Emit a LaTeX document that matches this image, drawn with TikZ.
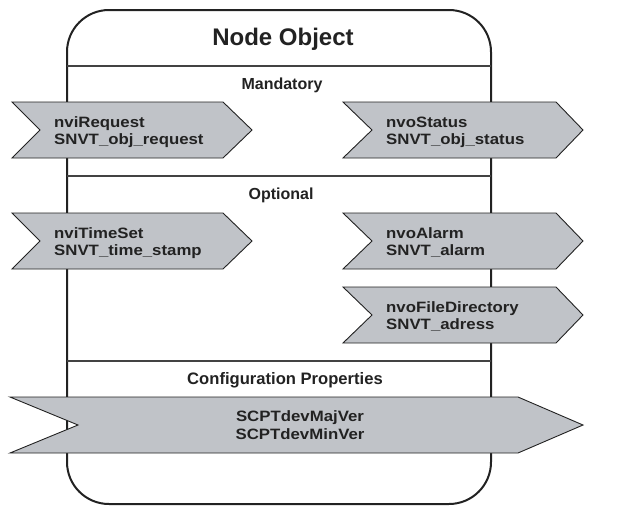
\documentclass[tikz,border=0pt]{standalone}
\usepackage{fontspec}
\setmainfont{Liberation Sans}
\newfontfamily\widefont[FakeStretch=1.12]{Liberation Sans}
\definecolor{chevfill}{HTML}{C0C3C8}
\definecolor{ink}{HTML}{222222}
\begin{document}
\begin{tikzpicture}[x=1pt,y=-1pt,
  boxline/.style={draw=ink,line width=2pt},
  secline/.style={draw=ink!85,line width=1.2pt},
  chev/.style={fill=chevfill,draw=ink,line width=0.9pt,line join=miter},
  lbl/.style={inner sep=0pt,anchor=base west,text=ink,font=\widefont\bfseries\fontsize{15}{17.5}\selectfont},
  clbl/.style={inner sep=0pt,anchor=base,text=ink,font=\widefont\bfseries\fontsize{15}{17.5}\selectfont},
  sec/.style={inner sep=0pt,anchor=base,text=ink,font=\bfseries\fontsize{16}{18}\selectfont},
  ttl/.style={inner sep=0pt,anchor=base,text=ink,font=\bfseries\fontsize{24}{28}\selectfont}]
\useasboundingbox (0,0) rectangle (621,507);
% outer box
\draw[boxline,rounded corners=42pt] (67,10) rectangle (491,504);
% section lines
\coordinate (l1a) at (67,66);  \coordinate (l1b) at (491,66);
\coordinate (l2a) at (67,176); \coordinate (l2b) at (491,176);
\coordinate (l3a) at (67,361); \coordinate (l3b) at (491,361);
\draw[secline] (l1a) -- (l1b);
\draw[secline] (l2a) -- (l2b);
\draw[secline] (l3a) -- (l3b);
% titles
\node[ttl] (title) at (283,45) {Node Object};
\node[sec] (mand) at (282,89) {Mandatory};
\node[sec] (opt) at (281,199) {Optional};
\node[sec,font=\bfseries\fontsize{16.6}{18}\selectfont] (conf) at (285,384) {Configuration Properties};
% chevrons
\draw[chev] (12,102) -- (223,102) -- (252,130) -- (223,158) -- (12,158) -- (40,130) -- cycle;
\draw[chev] (343,102) -- (556,102) -- (583,130) -- (556,158) -- (343,158) -- (372,130) -- cycle;
\draw[chev] (12,213) -- (223,213) -- (252,241) -- (223,269) -- (12,269) -- (40,241) -- cycle;
\draw[chev] (343,213) -- (556,213) -- (583,241) -- (556,269) -- (343,269) -- (372,241) -- cycle;
\draw[chev] (343,287) -- (556,287) -- (583,315) -- (556,343) -- (343,343) -- (372,315) -- cycle;
\draw[chev] (10,397) -- (518,397) -- (583,425) -- (518,453) -- (10,453) -- (78,425) -- cycle;
% chevron texts
\node[lbl] (req1) at (54,127) {nviRequest};
\node[lbl] (req2) at (54,144.5) {SNVT\_obj\_request};
\node[lbl] (sta1) at (386,127) {nvoStatus};
\node[lbl] (sta2) at (386,144.5) {SNVT\_obj\_status};
\node[lbl] (tim1) at (54,238) {nviTimeSet};
\node[lbl] (tim2) at (54,255.5) {SNVT\_time\_stamp};
\node[lbl] (ala1) at (386,238) {nvoAlarm};
\node[lbl] (ala2) at (386,255.5) {SNVT\_alarm};
\node[lbl] (fil1) at (386,312) {nvoFileDirectory};
\node[lbl] (fil2) at (386,329.5) {SNVT\_adress};
\node[clbl] (cp1) at (300,421.5) {SCPTdevMajVer};
\node[clbl] (cp2) at (300,439.5) {SCPTdevMinVer};
\end{tikzpicture}
\end{document}
